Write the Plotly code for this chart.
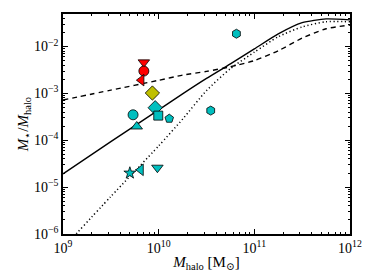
import plotly.graph_objects as go

# Model curves: log10(M_halo) and log10(M*/M_halo)
curve_logm = [9.0, 9.5, 10.0, 10.25, 10.5, 10.75, 11.0, 11.25, 11.5, 11.75, 12.0]
solid_logr = [-4.716, -4.03, -3.35, -3.01, -2.68, -2.37, -2.05, -1.73, -1.49, -1.41, -1.43]
dashed_logr = [-3.14, -2.93, -2.72, -2.61, -2.53, -2.43, -2.30, -2.09, -1.82, -1.62, -1.54]
dotted_logr = [-6.3, -5.2, -4.12, -3.55, -2.94, -2.47, -2.12, -1.79, -1.58, -1.47, -1.47]

# Individual objects
pt_mhalo = [7.0e9, 7.0e9, 6.6e9, 8.6e9, 9.2e9, 9.9e9, 5.4e9, 1.29e10, 5.9e9, 6.5e10, 3.5e10, 5.0e9, 6.5e9, 9.7e9]
pt_ratio = [4.6e-3, 3.0e-3, 1.92e-3, 1.02e-3, 4.95e-4, 3.36e-4, 3.5e-4, 2.9e-4, 1.97e-4, 1.88e-2, 4.3e-4, 2.0e-5, 2.34e-5, 2.6e-5]
pt_symbol = ["triangle-down", "circle", "triangle-left", "diamond", "diamond", "square", "circle",
             "pentagon", "triangle-up", "hexagon", "hexagon", "star", "triangle-left", "triangle-down"]
pt_color = ["#FF0000", "#FF0000", "#FF0000", "#BFBF00", "#00BFBF", "#00BFBF", "#00BFBF",
            "#00BFBF", "#00BFBF", "#00BFBF", "#00BFBF", "#00BFBF", "#00BFBF", "#00BFBF"]
pt_size = [10, 10, 10, 11, 11, 9, 10, 9, 10, 9, 9, 9, 10, 10]

x_ticks = [1e9, 1e10, 1e11, 1e12]
y_ticks = [1e-6, 1e-5, 1e-4, 1e-3, 1e-2]

fig = go.Figure()
xs = [10 ** v for v in curve_logm]
for vals, dash, w in [(solid_logr, "solid", 1.4), (dashed_logr, "5px,4px", 1.4), (dotted_logr, "1.2px,2.6px", 1.5)]:
    fig.add_trace(go.Scatter(
        x=xs, y=[10 ** v for v in vals], mode="lines",
        line=dict(color="black", width=w, dash=dash, shape="spline", smoothing=0.6),
        showlegend=False, hoverinfo="skip"))

fig.add_trace(go.Scatter(
    x=pt_mhalo, y=pt_ratio, mode="markers",
    marker=dict(symbol=pt_symbol, color=pt_color, size=pt_size, opacity=1,
                line=dict(color="black", width=0.8)),
    showlegend=False))

minor_x = [m * 10 ** e for e in range(9, 12) for m in range(2, 10)]
minor_y = [m * 10 ** e for e in range(-6, -1) for m in range(2, 10)]

font = "Liberation Serif, DejaVu Serif, serif"
axis_common = dict(
    type="log", showgrid=False, zeroline=False, showline=True, linecolor="black",
    linewidth=1.5, mirror="ticks", ticks="inside", ticklen=5, tickwidth=1,
    tickcolor="black", exponentformat="power",
    tickfont=dict(family=font, size=14, color="black"),
)

fig.update_xaxes(
    **axis_common, range=[9, 12], tickvals=x_ticks,
    ticktext=["10<sup>9</sup>", "10<sup>10</sup>", "10<sup>11</sup>", "10<sup>12</sup>"],
    minor=dict(tickvals=minor_x, ticks="inside", ticklen=2.5, tickcolor="black", showgrid=False),
    title=dict(text="<i>M</i><sub>halo</sub> [M<sub>⊙</sub>]", font=dict(family=font, size=15, color="black"),
               standoff=2),
)
fig.update_yaxes(
    **axis_common, range=[-6, -1.305], tickvals=y_ticks,
    ticktext=["10<sup>−6</sup>", "10<sup>−5</sup>", "10<sup>−4</sup>", "10<sup>−3</sup>", "10<sup>−2</sup>"],
    minor=dict(tickvals=minor_y, ticks="inside", ticklen=2.5, tickcolor="black", showgrid=False),
    title=dict(text="<i>M</i><sub>⋆</sub>/<i>M</i><sub>halo</sub>", font=dict(family=font, size=15, color="black"),
               standoff=2),
)

fig.update_layout(
    width=374, height=280,
    margin=dict(l=63, r=19, t=14, b=43),
    paper_bgcolor="white", plot_bgcolor="white",
    font=dict(family=font, color="black"),
)

fig.write_html("out.html", config={"displayModeBar": False},
               post_script="document.body.style.margin='0';")
